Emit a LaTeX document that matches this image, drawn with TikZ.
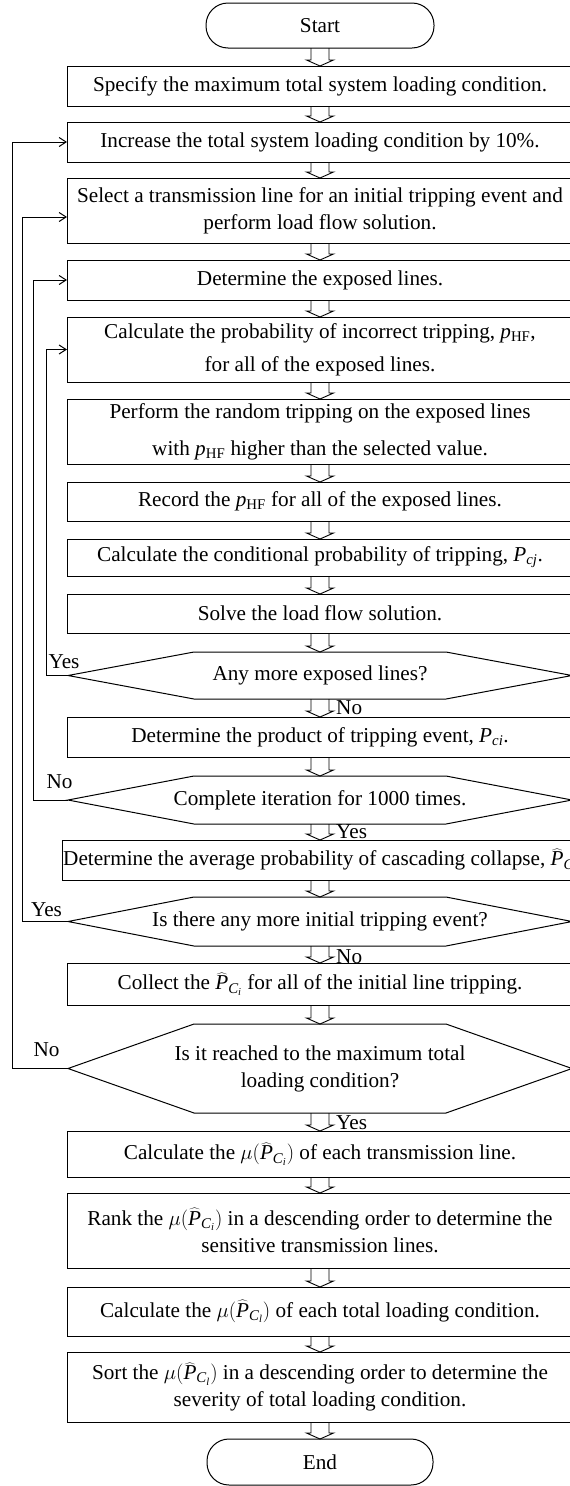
\documentclass[tikz,border=0pt]{standalone}
\usepackage{fontspec}
\setmainfont{Liberation Serif}
\usetikzlibrary{calc,arrows.meta}
\newcommand\fsz{\fontsize{21.2}{27}\selectfont}
\newcommand\pHF{$\mathit{p}_{\mathrm{HF}}$}
\newcommand\PhatCi{\widehat{\mathit{P}}_{\mathit{C}_{\mathit{i}}}}
\newcommand\PhatCl{\widehat{\mathit{P}}_{\mathit{C}_{\mathit{l}}}}
\newcommand\harr[2]{\draw[harrow] ($(#1.south)+(-9,0)$) -- ($(#1.south |- #2.north)+(-9,-6)$) -- ++(-4.5,0) -- (#1.south |- #2.north) -- ++(13.5,-6) -- ++(-4.5,0) -- ($(#1.south)+(9,0)$);}
\newcommand\hexpath[1]{\draw[frame] (#1.west) -- ($(#1.north west)+(126,0)$) -- ($(#1.north east)+(-126,0)$) -- (#1.east) -- ($(#1.south east)+(-126,0)$) -- ($(#1.south west)+(126,0)$) -- cycle;}
\begin{document}
\begin{tikzpicture}[x=1pt,y=-1pt,
  frame/.style={line width=1pt},
  harrow/.style={line width=0.9pt},
  box/.style={draw, line width=1pt, minimum width=506pt, inner sep=0pt, outer sep=0pt, align=center, font=\fsz},
  term/.style={draw, line width=1pt, rounded corners=22pt, minimum width=228pt, minimum height=45pt, inner sep=0pt, outer sep=0pt, font=\fsz},
  hexn/.style={minimum width=504pt, inner sep=0pt, outer sep=0pt, align=center, font=\fsz},
  lab/.style={inner sep=0pt, font=\fsz},
  loopline/.style={line width=1pt, -{Straight Barb[length=7pt,width=9pt]}}
]
\useasboundingbox[fill=white] (0,0) rectangle (570,1486);
\clip (0,0) rectangle (570,1486);

\node[term] (start) at (320,25.5) {Start};
\node[box, minimum height=40pt] (b1) at (320,86) {Specify the maximum total system loading condition.};
\node[box, minimum height=40pt] (b2) at (320,142) {Increase the total system loading condition by 10\%.};
\node[box, minimum height=65pt] (b3) at (320,210.5) {Select a transmission line for an initial tripping event and\\perform load flow solution.};
\node[box, minimum height=40pt] (b4) at (320,280) {Determine the exposed lines.};
\node[box, minimum height=65pt] (b5) at (320,349.5) {Calculate the probability of incorrect tripping, \pHF,\\[6pt]for all of the exposed lines.};
\node[box, minimum height=65pt] (b6) at (320,431.5) {Perform the random tripping on the exposed lines\\[10pt]with \pHF{} higher than the selected value.};
\node[box, minimum height=39pt] (b7) at (320,501.5) {Record the \pHF{} for all of the exposed lines.};
\node[box, minimum height=37pt] (b8) at (320,557.5) {Calculate the conditional probability of tripping, $\mathit{P}_{\mathit{cj}}$.};
\node[box, minimum height=39pt] (b9) at (320,613.5) {Solve the load flow solution.};
\node[hexn, minimum height=47pt] (h1) at (320,675.5) {Any more exposed lines?};
\node[box, minimum height=40pt] (b10) at (320,737) {Determine the product of tripping event, $\mathit{P}_{\mathit{ci}}$.};
\node[hexn, minimum height=48pt] (h2) at (320,800) {Complete iteration for 1000 times.};
\node[box, minimum width=516pt, minimum height=40pt] (b11) at (320,860) {};
\node[lab, anchor=west] (b11t) at (63,860) {Determine the average probability of cascading collapse, $\PhatCi$};
\node[hexn, minimum height=49pt] (h3) at (320,921.5) {Is there any more initial tripping event?};
\node[box, minimum height=42pt] (b12) at (320,984) {Collect the $\PhatCi$ for all of the initial line tripping.};
\node[hexn, minimum height=89pt] (h4) at (320,1068.5) {Is it reached to the maximum total\\loading condition?};
\node[box, minimum height=46pt] (b13) at (320,1154) {Calculate the $\mu(\PhatCi)$ of each transmission line.};
\node[box, minimum height=75pt] (b14) at (320,1230.5) {Rank the $\mu(\PhatCi)$ in a descending order to determine the\\sensitive transmission lines.};
\node[box, minimum height=49pt] (b15) at (320,1311.5) {Calculate the $\mu(\PhatCl)$ of each total loading condition.};
\node[box, minimum height=70pt] (b16) at (320,1387) {Sort the $\mu(\PhatCl)$ in a descending order to determine the\\severity of total loading condition.};
\node[term, minimum width=226pt, minimum height=46pt] (end) at (320,1462) {End};

\hexpath{h1}
\hexpath{h2}
\hexpath{h3}
\hexpath{h4}

\harr{start}{b1}
\harr{b1}{b2}
\harr{b2}{b3}
\harr{b3}{b4}
\harr{b4}{b5}
\harr{b5}{b6}
\harr{b6}{b7}
\harr{b7}{b8}
\harr{b8}{b9}
\harr{b9}{h1}
\harr{h1}{b10}
\harr{b10}{h2}
\harr{h2}{b11}
\harr{b11}{h3}
\harr{h3}{b12}
\harr{b12}{h4}
\harr{h4}{b13}
\harr{b13}{b14}
\harr{b14}{b15}
\harr{b15}{b16}
\harr{b16}{end}

\draw[loopline] (h1.west) -- ++(-22,0) |- (b5.west);
\draw[loopline] (h2.west) -- ++(-35,0) |- (b4.west);
\draw[loopline] (h3.west) -- ++(-46,0) |- ($(b3.west)+(0,6.5)$);
\draw[loopline] (h4.west) -- ++(-56,0) |- (b2.west);

\node[lab] (y1) at (64,662) {Yes};
\node[lab] (n2) at (59.5,782) {No};
\node[lab] (y3) at (46.5,910) {Yes};
\node[lab] (n4) at (46.5,1050) {No};
\node[lab, anchor=west] (n1) at (336,708) {No};
\node[lab, anchor=west] (y2) at (336,832) {Yes};
\node[lab, anchor=west] (n3) at (336,957) {No};
\node[lab, anchor=west] (y4) at (336,1123) {Yes};
\end{tikzpicture}
\end{document}
